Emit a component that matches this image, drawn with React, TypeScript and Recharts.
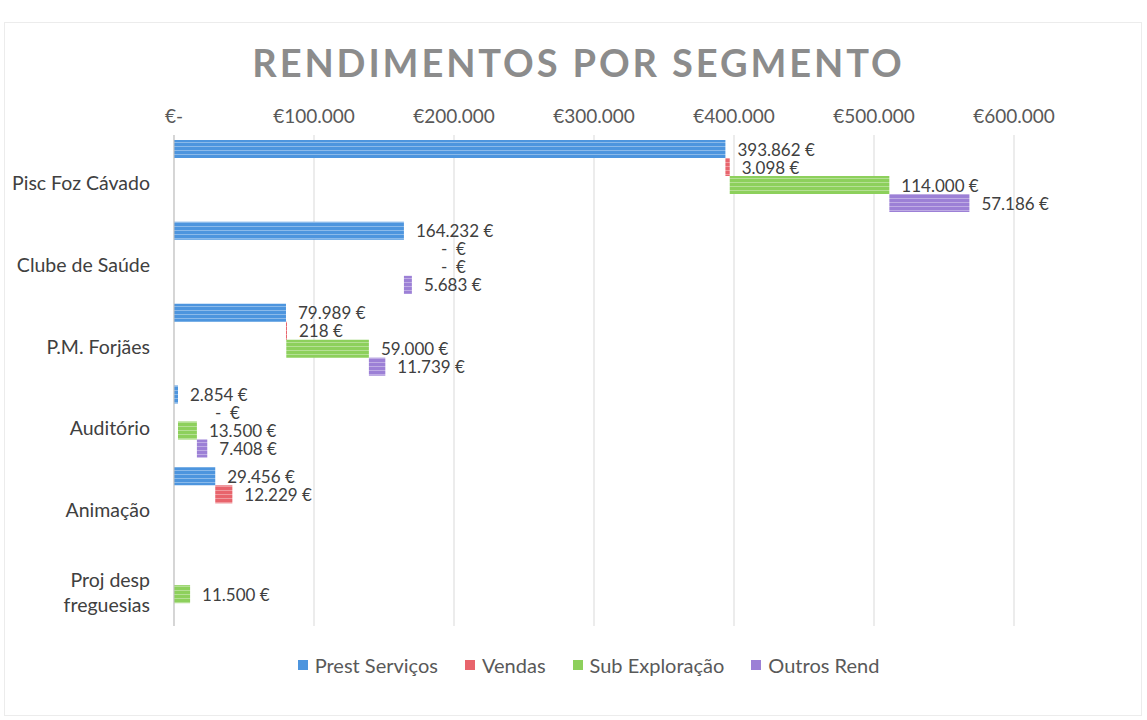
import React from 'react';
import { BarChart, Bar, XAxis, YAxis, CartesianGrid, LabelList, Cell } from 'recharts';

const categories = ['Pisc Foz Cávado', 'Clube de Saúde', 'P.M. Forjães', 'Auditório', 'Animação', 'Proj desp freguesias'];
const prestServicos: (number | null)[] = [393862, 164232, 79989, 2854, 29456, null];
const vendas: (number | null)[] = [3098, 0, 218, 0, 12229, null];
const subExploracao: (number | null)[] = [114000, 0, 59000, 13500, null, 11500];
const outrosRend: (number | null)[] = [57186, 5683, 11739, 7408, null, null];
const xTicks = [0, 100000, 200000, 300000, 400000, 500000, 600000];
const seriesNames = ['Prest Serviços', 'Vendas', 'Sub Exploração', 'Outros Rend'];
const seriesKeys = ['prest', 'vendas', 'sub', 'outros'];
const seriesColors = ['#4d95de', '#e8646c', '#8dd05c', '#9c80d6'];

const seriesValues = [prestServicos, vendas, subExploracao, outrosRend];

const fmtEuro = (v: number) => v.toLocaleString('de-DE') + ' €';

const data = categories.map((cat, i) => {
  const row: any = { cat };
  let s = 0;
  seriesKeys.forEach((k, j) => {
    const v = seriesValues[j][i];
    if (v == null) {
      row[k] = null;
      row[k + 'Label'] = null;
    } else {
      row[k] = [s, s + v];
      row[k + 'Label'] = v === 0 ? 'ZERO' : fmtEuro(v);
      s += v;
    }
  });
  return row;
});

const FONT = 'Lato, "Noto Sans", sans-serif';

const ValueLabel = (props: any) => {
  const { x, y, width, height, value } = props;
  if (value == null || x == null) return null;
  const cy = Number(y) + Number(height) / 2;
  const end = Number(x) + Number(width);
  if (value === 'ZERO') {
    return (
      <text x={end + 36} y={cy} dominantBaseline="central" fontFamily={FONT} fontSize={17} fill="#404040">
        {'-\u00A0\u00A0€'}
      </text>
    );
  }
  return (
    <text x={end + 12} y={cy} dominantBaseline="central" fontFamily={FONT} fontSize={17} fill="#404040">
      {value}
    </text>
  );
};

const CatTick = (props: any) => {
  const { x, y, payload } = props;
  const t: string = payload.value;
  let lines = [t];
  if (t.length > 16) {
    const idx = t.lastIndexOf(' ');
    lines = [t.slice(0, idx), t.slice(idx + 1)];
  }
  const lh = 25;
  const y0 = y + 6 - ((lines.length - 1) * lh) / 2;
  return (
    <text x={x} y={y0} textAnchor="end" dominantBaseline="central" fontFamily={FONT} fontSize={19.5} fill="#404040">
      {lines.map((l, i) => (
        <tspan key={i} x={x} y={y0 + i * lh}>{l}</tspan>
      ))}
    </text>
  );
};

export default function App() {
  return (
    <div style={{ position: 'absolute', left: 0, top: 0, width: 1147, height: 720, background: '#fff', fontFamily: FONT }}>
      <svg width={0} height={0} style={{ position: 'absolute' }}>
        <defs>
          {seriesColors.map((c, i) => (
            <pattern key={i} id={'stripe' + i} width={6} height={4} patternUnits="userSpaceOnUse">
              <rect width={6} height={4} fill={c} />
              <rect y={2} width={6} height={1} fill="#ffffff" opacity={0.35} />
            </pattern>
          ))}
        </defs>
      </svg>
      <div style={{ position: 'absolute', left: 4, top: 22, width: 1136, height: 692, border: '1px solid #ececec' }} />
      <div style={{ position: 'absolute', left: 0, top: 39, width: 1157, textAlign: 'center', fontSize: 38, fontWeight: 700, letterSpacing: 2.9, color: '#8c8c8c' }}>
        RENDIMENTOS POR SEGMENTO
      </div>
      <div style={{ position: 'absolute', left: 0, top: 0 }}>
        <BarChart
          width={1147}
          height={720}
          data={data}
          layout="vertical"
          margin={{ top: 105, right: 133, bottom: 94, left: 0 }}
          barCategoryGap={5}
          barGap={0}
        >
          <CartesianGrid horizontal={false} stroke="#d9d9d9" />
          <XAxis
            type="number"
            orientation="top"
            domain={[0, 600000]}
            ticks={xTicks}
            axisLine={false}
            tickLine={false}
            tickSize={0}
            tickMargin={12}
            interval={0}
            tickFormatter={(v: number) => (v === 0 ? '€-' : '€' + v.toLocaleString('de-DE'))}
            tick={{ fontFamily: FONT, fontSize: 19, fill: '#595959' }}
          />
          <YAxis
            type="category"
            dataKey="cat"
            width={174}
            axisLine={{ stroke: '#bfbfbf' }}
            tickLine={false}
            tickMargin={18}
            tick={<CatTick />}
            interval={0}
          />
          {seriesKeys.map((k, i) => (
            <Bar
              key={k}
              dataKey={k}
              name={seriesNames[i]}
              fill={`url(#stripe${i})`}
              minPointSize={1}
              isAnimationActive={false}
            >
              {data.map((row: any, j: number) => (
                <Cell key={j} fill={row[k + 'Label'] === 'ZERO' ? 'transparent' : `url(#stripe${i})`} />
              ))}
              <LabelList dataKey={k + 'Label'} content={<ValueLabel />} />
            </Bar>
          ))}
        </BarChart>
      </div>
      <div style={{ position: 'absolute', left: 0, top: 653, width: 1177, display: 'flex', justifyContent: 'center', fontSize: 20, color: '#595959' }}>
        {seriesNames.map((n, i) => (
          <div key={n} style={{ display: 'flex', alignItems: 'center', marginRight: i < 3 ? 27 : 0 }}>
            <div style={{ width: 10, height: 10, background: seriesColors[i], marginRight: 7 }} />
            <span>{n}</span>
          </div>
        ))}
      </div>
    </div>
  );
}
